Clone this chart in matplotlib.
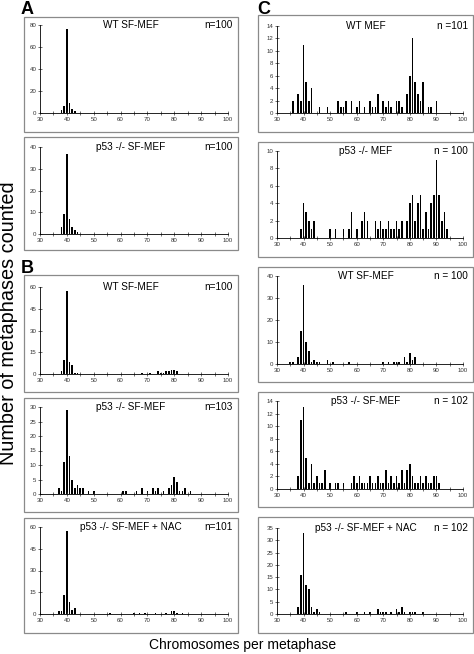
import matplotlib
matplotlib.use("Agg")
import matplotlib.pyplot as plt
from matplotlib.patches import Rectangle
from matplotlib.ticker import MultipleLocator

plt.rcParams['font.family'] = ['Liberation Sans', 'DejaVu Sans']

# ---- data: chromosome number -> metaphases counted ----
a1_chrom = [38, 39, 40, 41, 42, 43]
a1_count = [3, 6, 76, 9, 4, 2]

a2_chrom = [38, 39, 40, 41, 42, 43, 44]
a2_count = [3, 9, 37, 7, 3, 2, 1]

b1_chrom = [38, 39, 40, 41, 42, 43, 44, 68, 71, 74, 75, 76, 77, 78, 79, 80, 81]
b1_count = [2, 10, 57, 8, 6, 1, 1, 1, 1, 2, 1, 1, 2, 2, 3, 3, 2]

b2_chrom = [37, 38, 39, 40, 41, 42, 43, 44, 45, 46, 48, 50, 61, 62, 66, 68, 70,
            72, 73, 74, 76, 78, 79, 80, 81, 82, 83, 84, 86]
b2_count = [2, 1, 11, 29, 13, 5, 2, 3, 2, 2, 1, 1, 1, 1, 1, 2, 1,
            2, 1, 2, 1, 2, 3, 6, 4, 1, 1, 2, 1]

b3_chrom = [37, 38, 39, 40, 41, 42, 43, 56, 65, 67, 69, 73, 77, 79, 80, 81, 83]
b3_count = [2, 2, 13, 57, 8, 3, 4, 1, 1, 1, 1, 1, 1, 2, 2, 1, 1]

c1_chrom = [36, 38, 39, 40, 41, 42, 43, 46, 49, 53, 54, 55, 56, 58, 60, 61, 63,
            65, 66, 67, 68, 70, 71, 72, 73, 75, 76, 77, 79, 80, 81, 82, 83, 84,
            85, 87, 88, 90]
c1_count = [2, 3, 2, 11, 5, 2, 4, 1, 1, 2, 1, 1, 2, 2, 1, 2, 1,
            2, 1, 1, 3, 2, 1, 2, 1, 2, 2, 1, 3, 6, 12, 5, 3, 2,
            5, 1, 1, 2]

c2_chrom = [39, 40, 41, 42, 43, 44, 50, 52, 55, 57, 58, 60, 62, 63, 64, 67, 68,
            69, 70, 71, 72, 73, 74, 75, 76, 77, 79, 80, 81, 82, 83, 84, 85, 86,
            87, 88, 89, 90, 91, 92, 93, 94]
c2_count = [1, 4, 3, 2, 1, 2, 1, 1, 1, 1, 3, 1, 2, 3, 2, 2, 1,
            2, 1, 1, 2, 1, 1, 2, 1, 2, 2, 4, 5, 2, 4, 5, 1, 3,
            1, 4, 5, 9, 5, 2, 3, 1]

c3_chrom = [35, 36, 38, 39, 40, 41, 42, 43, 44, 45, 46, 49, 51, 57, 70, 72, 74,
            75, 76, 78, 79, 80, 81, 82]
c3_count = [1, 1, 3, 15, 36, 10, 6, 1, 2, 1, 1, 2, 1, 1, 1, 1, 1,
            1, 1, 3, 1, 5, 2, 3]

c4_chrom = [38, 39, 40, 41, 42, 43, 44, 45, 46, 47, 48, 50, 52, 53, 55, 58, 59,
            60, 61, 62, 63, 64, 65, 66, 67, 68, 69, 70, 71, 72, 73, 74, 75, 76,
            77, 78, 79, 80, 81, 82, 83, 84, 85, 86, 87, 88, 89, 90, 91]
c4_count = [2, 11, 13, 5, 1, 4, 1, 2, 1, 1, 3, 1, 1, 1, 1, 1, 2,
            1, 2, 1, 1, 1, 2, 1, 1, 2, 1, 1, 3, 1, 2, 1, 2, 1,
            3, 1, 3, 4, 2, 1, 1, 2, 1, 2, 1, 1, 2, 2, 1]

c5_chrom = [38, 39, 40, 41, 42, 43, 44, 45, 46, 56, 60, 63, 65, 68, 69, 70, 71,
            73, 75, 76, 77, 78, 80, 81, 82, 85]
c5_count = [3, 16, 33, 12, 10, 3, 1, 2, 1, 1, 1, 1, 1, 2, 1, 1, 1,
            1, 2, 1, 3, 1, 1, 1, 1, 1]

W, H = 474, 654
fig = plt.figure(figsize=(W / 100, H / 100), dpi=100)


def px_axes(x0, y0, x1, y1):
    return fig.add_axes([x0 / W, 1 - y1 / H, (x1 - x0) / W, (y1 - y0) / H])


def panel(frame, axbox, chrom, count, ymax, ystep, title, ntext):
    fx0, fy0, fx1, fy1 = frame
    fig.patches.append(Rectangle((fx0 / W, 1 - fy1 / H), (fx1 - fx0) / W, (fy1 - fy0) / H,
                                 transform=fig.transFigure, fill=False,
                                 edgecolor='#8a8a8a', lw=0.9))
    ax = px_axes(*axbox)
    ax.bar(chrom, count, width=0.6, color='black')
    ax.set_xlim(30, 100)
    ax.set_ylim(0, ymax)
    ax.xaxis.set_major_locator(MultipleLocator(10))
    ax.xaxis.set_minor_locator(MultipleLocator(5))
    ax.yaxis.set_major_locator(MultipleLocator(ystep))
    ax.patch.set_alpha(0)
    for s in ('top', 'right'):
        ax.spines[s].set_visible(False)
    for s in ('left', 'bottom'):
        ax.spines[s].set_linewidth(0.6)
    ax.tick_params(which='both', direction='inout', length=2.2, width=0.5,
                   labelsize=4.4, pad=1.5, colors='#333333')
    ax.tick_params(which='minor', length=2.2)
    ytop = axbox[1]
    fig.text(((fx0 + fx1) / 2) / W, 1 - ytop / H, title, ha='center', va='center', fontsize=7.2)
    fig.text((fx1 - 5) / W, 1 - ytop / H, ntext, ha='right', va='center', fontsize=7.2)
    return ax


# left column (A, B)
panel((24, 17, 238, 132), (40, 25, 228, 113), a1_chrom, a1_count, 80, 20, 'WT SF-MEF', 'n=100')
panel((24, 137, 238, 250), (40, 147, 228, 234), a2_chrom, a2_count, 40, 10, 'p53 -/- SF-MEF', 'n=100')
panel((24, 275, 238, 392), (40, 287, 228, 374), b1_chrom, b1_count, 60, 15, 'WT SF-MEF', 'n=100')
panel((24, 398, 238, 512), (40, 407, 228, 494), b2_chrom, b2_count, 30, 5, 'p53 -/- SF-MEF', 'n=103')
panel((24, 518, 238, 633), (40, 527, 228, 614), b3_chrom, b3_count, 60, 15, 'p53 -/- SF-MEF + NAC', 'n=101')

# right column (C)
panel((258, 15, 473, 132), (277, 26, 463, 113), c1_chrom, c1_count, 14, 2, 'WT MEF', 'n =101')
panel((258, 142, 473, 257), (277, 151, 463, 238), c2_chrom, c2_count, 10, 2, 'p53 -/- MEF', 'n = 100')
panel((258, 267, 473, 382), (277, 276, 463, 364), c3_chrom, c3_count, 40, 10, 'WT SF-MEF', 'n = 100')
panel((258, 392, 473, 507), (277, 401, 463, 489), c4_chrom, c4_count, 14, 2, 'p53 -/- SF-MEF', 'n = 102')
panel((258, 517, 473, 633), (277, 528, 463, 614), c5_chrom, c5_count, 35, 5, 'p53 -/- SF-MEF + NAC', 'n = 102')

# panel letters
fig.text(21 / W, 1 - 9 / H, 'A', fontsize=13, fontweight='bold', va='center', ha='left')
fig.text(21 / W, 1 - 268 / H, 'B', fontsize=13, fontweight='bold', va='center', ha='left')
fig.text(257 / W, 1 - 9 / H, 'C', fontsize=13, fontweight='bold', va='center', ha='left')

fig.text(9 / W, 1 - 323 / H, 'Number of metaphases counted', rotation=90,
         ha='center', va='center', fontsize=14.3)
fig.text(243 / W, 1 - 645 / H, 'Chromosomes per metaphase', ha='center', va='center', fontsize=10)

fig.savefig('out.png', dpi=100)
